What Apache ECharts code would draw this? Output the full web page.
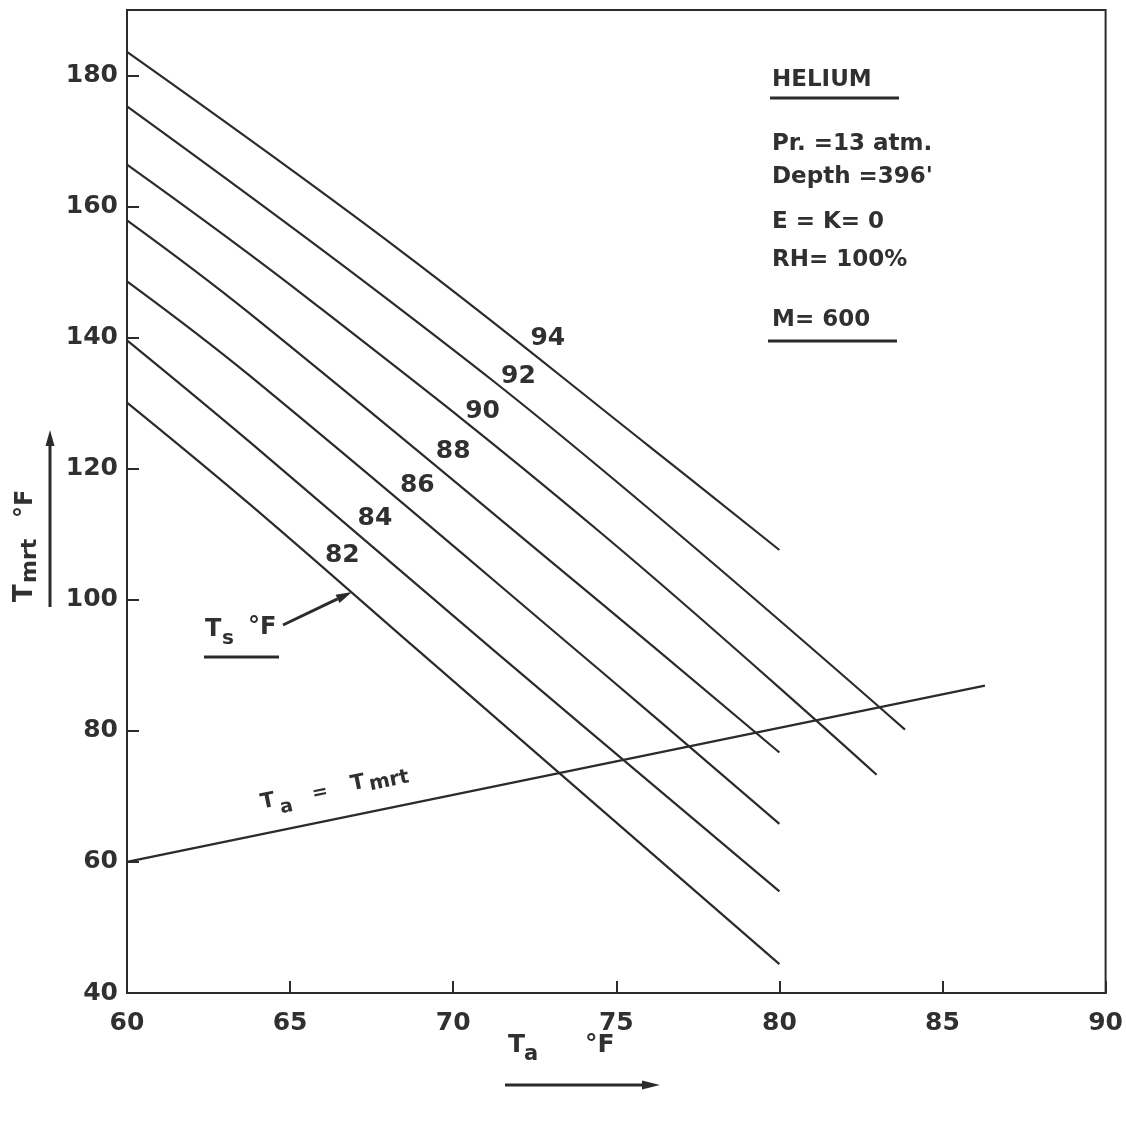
<!DOCTYPE html>
<html>
<head>
<meta charset="utf-8">
<script src="https://cdn.jsdelivr.net/npm/echarts@6/dist/echarts.min.js"></script>
<style>
  html, body { margin: 0; padding: 0; background: #ffffff; }
  #chart { width: 1126px; height: 1123px; }
</style>
</head>
<body>
<div id="chart"></div>
<script>
// Axis ticks
const taTicks = [60, 65, 70, 75, 80, 85, 90];
const tmrtTicks = [40, 60, 80, 100, 120, 140, 160, 180];

// Skin temperature curves (Ts, °F): points along each curve
const tsLevels = [94, 92, 90, 88, 86, 84, 82];
const curveTa = [
  [60, 68.35, 75.99, 80],
  [60, 67.95, 74.46, 83.85],
  [60, 65.54, 74.46, 82.98],
  [60, 63.76, 74.46, 80],
  [60, 63.76, 74.46, 80],
  [60, 63.76, 71.19, 80],
  [60, 63.76, 68.87, 80]
];
const curveTmrt = [
  [183.6, 153.4, 123.5, 107.6],
  [175.3, 146.0, 120.3, 80.2],
  [166.4, 146.0, 110.5, 73.3],
  [157.9, 143.7, 99.8, 76.7],
  [148.6, 134.2, 89.4, 65.8],
  [139.6, 124.1, 92.5, 55.5],
  [130.1, 114.6, 92.5, 44.4]
];

// Ta = Tmrt reference line
const equalTa = [60, 86.3];
const equalTmrt = [60, 86.9];

// Where each Ts value is written (data coordinates)
const tsLabelAt = [
  [72.9, 139.9], [72.0, 134.0], [70.9, 128.7], [70.0, 122.7],
  [68.9, 117.4], [67.6, 112.4], [66.6, 106.7]
];

const ink = '#2b2b2b';
const textInk = '#303030';
const FONT = '"DejaVu Sans", sans-serif';

function zip(xs, ys) { return xs.map((x, i) => [x, ys[i]]); }

function arrow(x1, y1, x2, y2, headLen, headW, width) {
  const dx = x2 - x1, dy = y2 - y1;
  const len = Math.sqrt(dx * dx + dy * dy);
  const ux = dx / len, uy = dy / len;
  const bx = x2 - ux * headLen, by = y2 - uy * headLen;
  const nx = -uy, ny = ux;
  return [
    { type: 'line', shape: { x1: x1, y1: y1, x2: bx, y2: by },
      style: { stroke: ink, lineWidth: width } },
    { type: 'polygon',
      shape: { points: [[x2, y2], [bx + nx * headW, by + ny * headW], [bx - nx * headW, by - ny * headW]] },
      style: { fill: ink } }
  ];
}

function txt(text, x, y, size, weight) {
  return { type: 'text', x: x, y: y,
    style: { text: text, font: (weight || 'bold') + ' ' + size + 'px ' + FONT,
      fill: textInk, textAlign: 'left', textVerticalAlign: 'middle' } };
}

const series = tsLevels.map((ts, i) => ({
  type: 'line',
  name: 'Ts ' + ts,
  data: zip(curveTa[i], curveTmrt[i]),
  symbol: 'none',
  smooth: 0.4,
  silent: true,
  lineStyle: { color: ink, width: 2.2 },
  markPoint: {
    symbol: 'circle', symbolSize: 0, silent: true,
    data: [{ coord: tsLabelAt[i], value: ts }],
    label: { show: true, position: 'inside', formatter: '{c}',
      color: textInk, fontSize: 25, fontWeight: 'bold', fontFamily: FONT }
  }
}));

series.push({
  type: 'line',
  name: 'Ta = Tmrt',
  data: zip(equalTa, equalTmrt),
  symbol: 'none',
  silent: true,
  lineStyle: { color: ink, width: 2.2 }
});

const graphics = [];

// Condition block
graphics.push(txt('HELIUM', 772, 80, 23));
graphics.push({ type: 'line', shape: { x1: 770, y1: 98, x2: 899, y2: 98 }, style: { stroke: ink, lineWidth: 3 } });
graphics.push(txt('Pr. =13 atm.', 772, 144, 23));
graphics.push(txt("Depth =396'", 772, 177, 23));
graphics.push(txt('E = K= 0', 772, 222, 23));
graphics.push(txt('RH= 100%', 772, 260, 23));
graphics.push(txt('M= 600', 772, 320, 23));
graphics.push({ type: 'line', shape: { x1: 768, y1: 341, x2: 897, y2: 341 }, style: { stroke: ink, lineWidth: 3 } });

// Ts °F pointer
graphics.push(txt('T', 205, 630, 24));
graphics.push(txt('s', 222, 639, 20));
graphics.push(txt('°F', 248, 628, 24));
graphics.push({ type: 'line', shape: { x1: 204, y1: 657, x2: 279, y2: 657 }, style: { stroke: ink, lineWidth: 3 } });
arrow(283, 625, 352, 592, 16, 4.5, 3).forEach(g => graphics.push(g));

// Y axis title with arrow
graphics.push({
  type: 'group', x: 33, y: 602, rotation: Math.PI / 2,
  children: [
    txt('T', 0, -8, 26),
    txt('mrt', 19, -3, 22),
    txt('°F', 84, -7, 24)
  ]
});
arrow(50, 607, 50, 430, 16, 4.5, 3).forEach(g => graphics.push(g));

// X axis title with arrow
graphics.push(txt('T', 508, 1045, 25));
graphics.push(txt('a', 524, 1055, 21));
graphics.push(txt('°F', 585, 1045, 25));
arrow(505, 1085, 660, 1085, 18, 4.5, 3).forEach(g => graphics.push(g));

// Label along the Ta = Tmrt line
graphics.push({
  type: 'group', x: 262, y: 809, rotation: 0.2006,
  children: [
    txt('T', 0, -6, 21),
    txt('a', 18, 3, 19),
    txt('=', 52, -4, 19),
    txt('T', 92, -6, 21),
    txt('mrt', 110, -2, 20)
  ]
});

const chart = echarts.init(document.getElementById('chart'), null, { renderer: 'canvas' });
chart.setOption({
  backgroundColor: '#ffffff',
  animation: false,
  grid: { left: 127, right: 18, top: 10, bottom: 130, show: true,
    borderColor: ink, borderWidth: 2, backgroundColor: 'transparent' },
  xAxis: {
    type: 'value', min: 60, max: 90, interval: 5,
    axisLine: { show: true, lineStyle: { color: ink, width: 2 } },
    axisTick: { show: true, inside: true, length: 12, customValues: taTicks,
      lineStyle: { color: ink, width: 2 } },
    splitLine: { show: false },
    axisLabel: { color: textInk, fontSize: 25, fontWeight: 'bold', fontFamily: FONT,
      margin: 18, customValues: taTicks }
  },
  yAxis: {
    type: 'value', min: 40, max: 190, interval: 20,
    axisLine: { show: true, lineStyle: { color: ink, width: 2 } },
    axisTick: { show: true, inside: true, length: 12, customValues: tmrtTicks,
      lineStyle: { color: ink, width: 2 } },
    splitLine: { show: false },
    axisLabel: { color: textInk, fontSize: 25, fontWeight: 'bold', fontFamily: FONT,
      margin: 9, customValues: tmrtTicks }
  },
  series: series,
  graphic: { elements: graphics }
});
</script>
</body>
</html>
